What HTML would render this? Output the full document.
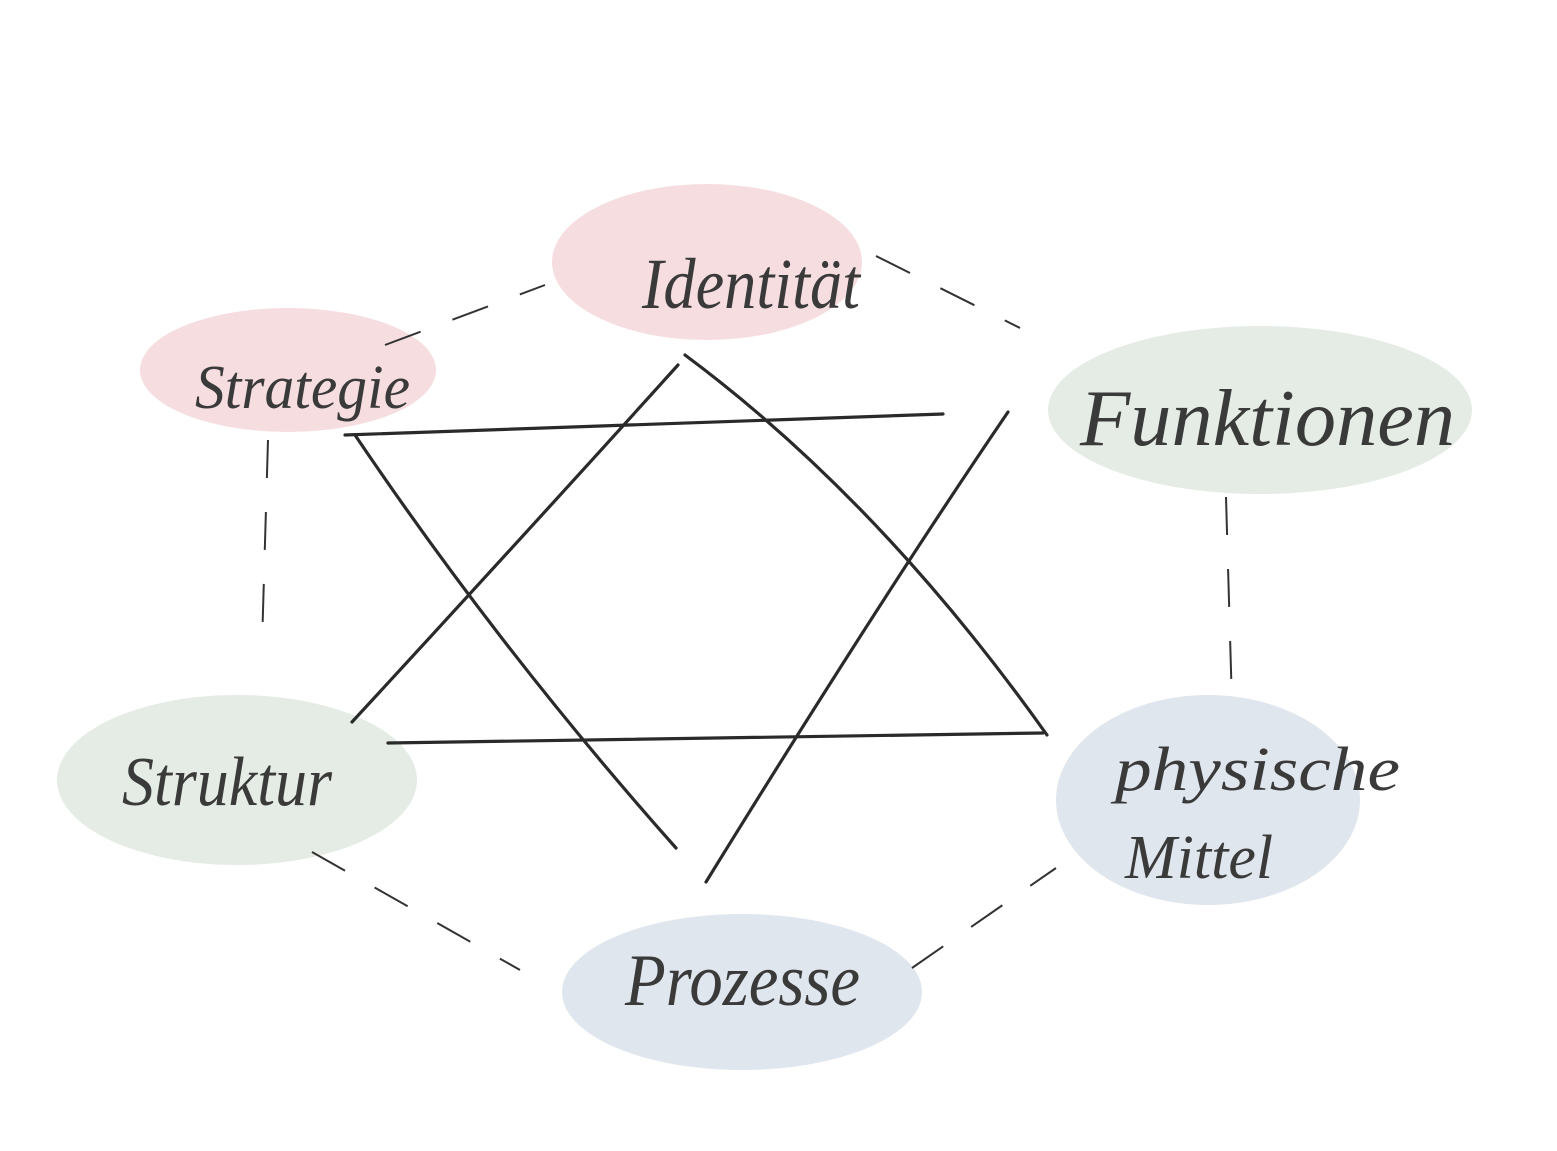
<!DOCTYPE html>
<html><head><meta charset="utf-8"><style>
html,body{margin:0;padding:0;background:#fff}
svg{display:block}
text{font-family:"Liberation Serif",serif;font-style:italic;fill:#3a3a3a}
</style></head><body>
<svg width="1557" height="1151" viewBox="0 0 1557 1151" xmlns="http://www.w3.org/2000/svg">
<g>
<ellipse cx="707" cy="262" rx="155" ry="78" fill="#f6dde0"/>
<ellipse cx="288" cy="370" rx="148" ry="62" fill="#f6dde0"/>
<ellipse cx="1260" cy="410" rx="212" ry="84" fill="#e4ece5"/>
<ellipse cx="237" cy="780" rx="180" ry="85" fill="#e4ece5"/>
<ellipse cx="1208" cy="800" rx="152" ry="105" fill="#e0e6ed"/>
<ellipse cx="742" cy="992" rx="180" ry="78" fill="#e0e6ed"/>
</g>
<g stroke="#2a2a2a" stroke-width="3.2" fill="none" stroke-linecap="round">
<path d="M678 365 Q520 540 352 722"/>
<path d="M685 355 Q880 500 1047 735"/>
<path d="M388 743 L1043 733"/>
<path d="M345 435 L943 414"/>
<path d="M355 435 Q500 650 676 848"/>
<path d="M1008 412 Q880 600 706 882"/>
</g>
<g stroke="#333" stroke-width="2" fill="none" stroke-dasharray="38 34">
<path d="M385 345 L545 285"/>
<path d="M876 256 L1020 328"/>
<path d="M268 440 L262 645"/>
<path d="M1226 497 L1232 705"/>
<path d="M312 852 L520 970"/>
<path d="M912 968 L1056 868"/>
</g>
<text x="642" y="308" font-size="72" textLength="218" lengthAdjust="spacingAndGlyphs">Identität</text>
<text x="195" y="408" font-size="62" textLength="215" lengthAdjust="spacingAndGlyphs">Strategie</text>
<text x="1080" y="445" font-size="80" textLength="375" lengthAdjust="spacingAndGlyphs">Funktionen</text>
<text x="122" y="805" font-size="70" textLength="210" lengthAdjust="spacingAndGlyphs">Struktur</text>
<text x="1115" y="790" font-size="62" textLength="285" lengthAdjust="spacingAndGlyphs">physische</text>
<text x="1125" y="878" font-size="62">Mittel</text>
<text x="625" y="1005" font-size="74" textLength="235" lengthAdjust="spacingAndGlyphs">Prozesse</text>
</svg>
</body></html>
